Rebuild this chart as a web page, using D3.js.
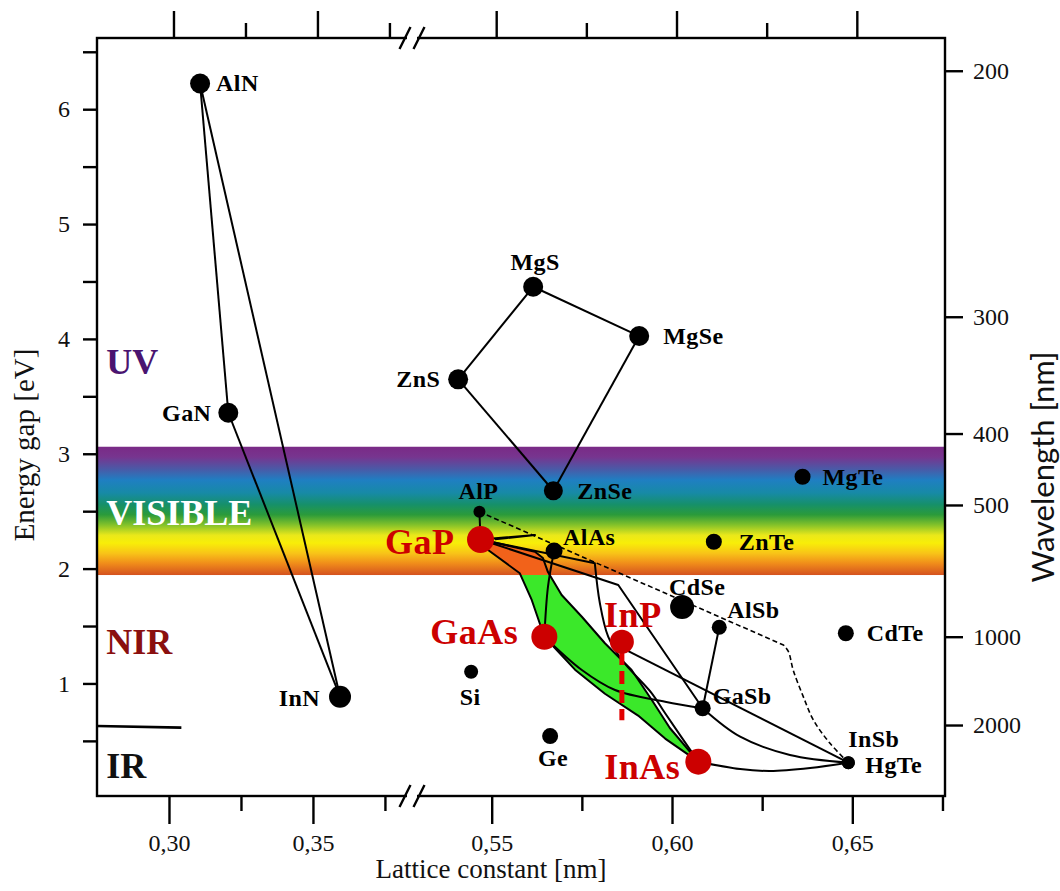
<!DOCTYPE html>
<html><head><meta charset="utf-8">
<script src="https://cdn.jsdelivr.net/npm/d3@7/dist/d3.min.js"></script>
<style>body{margin:0;background:#fff} svg{display:block}</style>
</head><body><svg id="chart" width="1060" height="891"></svg>
<script>
// ================= DATA =================
const compounds       = ["AlN","GaN","InN","MgS","MgSe","ZnS","ZnSe","AlP","MgTe","GaP","AlAs","ZnTe","CdSe","AlSb","CdTe","GaAs","InP","Si","GaSb","Ge","InAs","InSb","HgTe"];
const latticeConstant = [0.3108,0.3206,0.3594,0.5615,0.5909,0.5407,0.5671,0.5466,0.6362,0.5469,0.5673,0.6116,0.6028,0.6131,0.6482,0.5646,0.5861,0.5443,0.6085,0.5662,0.6073,0.6489,0.6489];
const energyGap       = [6.224,3.357,0.885,4.454,4.025,3.648,2.678,2.495,2.800,2.253,2.153,2.234,1.666,1.489,1.437,1.407,1.363,1.102,0.784,0.542,0.319,0.310,0.310];
const highlighted     = ["GaP","GaAs","InP","InAs"];

// straight tie lines between binaries
const straightTies = [["AlN","GaN"],["AlN","InN"],["GaN","InN"],["MgS","MgSe"],["MgS","ZnS"],["ZnS","ZnSe"],["MgSe","ZnSe"],["AlP","GaP"],["AlSb","GaSb"]];

// bent / curved tie lines: intermediate [a, Eg] points
const tieGaAsGaSb = [[0.5750,1.117],[0.5842,0.943],[0.5981,0.841]];
const tieAlAsGaAs = [[0.5656,1.840]];
const tieGaPGaSb  = [[0.5851,1.857]];
const tieGaPInAs  = [[0.5786,2.046],[0.5800,1.698],[0.5823,1.407],[0.5861,1.204],[0.5944,0.914],[0.5981,0.740]];
const tieGaPSmall = [[0.5620,2.293],[0.5509,2.255]];
const tieInPInSb  = [[0.5861,1.309]];
const tieGaSbInSb = [[0.6189,0.536],[0.6327,0.377]];
const tieInAsInSb = [[0.6189,0.255],[0.6272,0.238],[0.6383,0.264]];
const tieAlPInSbDashed = [[0.6309,1.335],[0.6323,1.276],[0.6336,1.117],[0.6364,0.885],[0.6392,0.682],[0.6438,0.479]];

// quaternary region GaP -> InAs -> GaAs -> GaP
const regionRightEdge = [[0.5620,2.147],[0.5642,2.092],[0.5656,1.970],[0.5694,1.770],[0.5750,1.581],[0.5814,1.350],[0.5888,1.117],[0.5944,0.856],[0.5994,0.612]];
const regionLowerEdge = [[0.5981,0.520],[0.5906,0.720],[0.5814,0.910],[0.5731,1.120]];
const regionLeftEdge  = [[0.5611,1.727],[0.5578,1.959],[0.5490,2.162]];

// lattice matched to InP (dashed red)
const inpMatched = [[0.5861,1.274],[0.5861,0.680]];

// visible band (eV) and spectral region labels
const visibleBand = [1.944, 3.061];
const regionNames  = ["UV","VISIBLE","NIR","IR"];
const regionEnergy = [3.80, 2.484, 1.361, 0.277];
const irBoundary   = [[0.2750,0.630],[0.3043,0.615]];

// axes
const xMajorTicks  = [0.30,0.35,0.55,0.60,0.65];
const xTickLabels  = ["0,30","0,35","0,55","0,60","0,65"];
const xMinorTicks  = [0.325,0.375,0.575,0.625,0.675];
const yMajorTicks  = [1,2,3,4,5,6];
const yMinorTicks  = [0.5,1.5,2.5,3.5,4.5,5.5,6.5];
const wavelengthTicks  = [200,300,400,500,1000,2000];
const wavelengthEnergy = [6.335,4.193,3.176,2.554,1.407,0.638];

// ================= STYLE =================
const radius = {AlN:10,GaN:10,InN:11,MgS:10,MgSe:10,ZnS:10,ZnSe:9.5,AlP:6,MgTe:8,GaP:13.5,AlAs:8.5,ZnTe:8,CdSe:12,AlSb:7.5,CdTe:8,GaAs:13,InP:12,Si:7,GaSb:8,Ge:8,InAs:13,InSb:6.5,HgTe:6.5};
const labelPos = {
 AlN:{dx:16,dy:0,a:"start"}, GaN:{dx:-17,dy:0,a:"end"}, InN:{dx:-20,dy:1,a:"end"},
 MgS:{dx:2,dy:-25,a:"middle"}, MgSe:{dx:24,dy:0,a:"start"}, ZnS:{dx:-18,dy:0,a:"end"},
 ZnSe:{dx:24,dy:0,a:"start"}, AlP:{dx:-1,dy:-21,a:"middle"}, MgTe:{dx:20,dy:0,a:"start"},
 GaP:{dx:-26,dy:2,a:"end"}, AlAs:{dx:9,dy:-14,a:"start"}, ZnTe:{dx:25,dy:0,a:"start"},
 CdSe:{dx:-13,dy:-20,a:"start"}, AlSb:{dx:8,dy:-17,a:"start"}, CdTe:{dx:21,dy:0,a:"start"},
 GaAs:{dx:-26,dy:-5,a:"end"}, InP:{dx:11,dy:-27,a:"middle"}, Si:{dx:-1,dy:25,a:"middle"},
 GaSb:{dx:10,dy:-12,a:"start"}, Ge:{dx:3,dy:22,a:"middle"}, InAs:{dx:-18,dy:5,a:"end"},
 InSb:{dx:0,dy:-24,a:"start"}, HgTe:{dx:17,dy:2,a:"start"}
};
const regionColor = {UV:"#4a1470",VISIBLE:"#ffffff",NIR:"#8a0f0f",IR:"#111111"};
const RED = "#cc0000";
const SERIF = "'Liberation Serif','Times New Roman',serif";
const LW = 2;

// ================= SCALES =================
const L = 97, R = 945, T = 38, B = 796;
const x = d3.scaleLinear().domain([0.275,0.3844,0.5279,0.6757]).range([L,412,412,R]);
const xTop = d3.scaleLinear().domain(x.domain()).range(x.range().map(v=>v+4.5));
const y = d3.scaleLinear().domain([0.02,6.62]).range([B,T]);
const yWave = d3.scaleLinear().domain(wavelengthTicks).range(wavelengthEnergy.map(e=>y(e)));

const pt = {};
compounds.forEach((c,i)=>pt[c]=[latticeConstant[i],energyGap[i]]);

const svg = d3.select("#chart");
const defs = svg.append("defs");

// spectrum gradient
const grad = defs.append("linearGradient").attr("id","spec").attr("x1",0).attr("y1",0).attr("x2",0).attr("y2",1);
[["0","#7a2a86"],["0.08","#77358f"],["0.17","#4c58a6"],["0.26","#1f7fc2"],["0.36","#178aa6"],["0.45","#16906a"],["0.53","#2b9b3a"],["0.61","#84c22a"],["0.69","#eae81a"],["0.75","#f8ee08"],["0.83","#f8c418"],["0.91","#f08c1a"],["1","#d4521f"]]
 .forEach(s=>grad.append("stop").attr("offset",s[0]).attr("stop-color",s[1]));

const bandY0 = y(visibleBand[1]), bandY1 = y(visibleBand[0]);
defs.append("clipPath").attr("id","clipBand").append("rect").attr("x",L).attr("y",bandY0).attr("width",R-L).attr("height",bandY1-bandY0);
defs.append("clipPath").attr("id","clipBelow").append("rect").attr("x",L).attr("y",bandY1).attr("width",R-L).attr("height",B-bandY1);

// band
svg.append("rect").attr("x",L).attr("y",bandY0).attr("width",R-L).attr("height",bandY1-bandY0).attr("fill","url(#spec)");

// quaternary region
const regionPts = [pt.GaP, ...regionRightEdge, pt.InAs, ...regionLowerEdge, pt.GaAs, ...regionLeftEdge];
const areaPath = d3.line().x(d=>x(d[0])).y(d=>y(d[1]))(regionPts) + "Z";
svg.append("path").attr("d",areaPath).attr("fill","#3be82a").attr("clip-path","url(#clipBelow)");
svg.append("path").attr("d",areaPath).attr("fill","#f2621a").attr("clip-path","url(#clipBand)");
svg.append("path").attr("d",areaPath).attr("fill","none").attr("stroke","#000").attr("stroke-width",LW).attr("stroke-linejoin","round");

// tie lines
const lin = d3.line().x(d=>x(d[0])).y(d=>y(d[1]));
const smooth = d3.line().x(d=>x(d[0])).y(d=>y(d[1])).curve(d3.curveCatmullRom.alpha(0.5));
const g = svg.append("g").attr("fill","none").attr("stroke","#000").attr("stroke-width",LW).attr("stroke-linejoin","round");
straightTies.forEach(([a,b])=>g.append("path").attr("d",lin([pt[a],pt[b]])));
g.append("path").attr("d",smooth([pt.GaAs,...tieGaAsGaSb,pt.GaSb]));
g.append("path").attr("d",smooth([pt.AlAs,...tieAlAsGaAs,pt.GaAs]));
g.append("path").attr("d",lin([pt.GaP,...tieGaPGaSb,pt.GaSb]));
g.append("path").attr("d",lin([pt.GaP,tieGaPInAs[0]])+smooth([...tieGaPInAs,pt.InAs]).replace(/^M/,"L"));
g.append("path").attr("d",lin([pt.GaP,...tieGaPSmall]));
g.append("path").attr("d",lin([...tieInPInSb,pt.InSb]));
g.append("path").attr("d",smooth([pt.GaSb,...tieGaSbInSb,pt.InSb]));
g.append("path").attr("d",smooth([pt.InAs,...tieInAsInSb,pt.InSb]));
g.append("path").attr("d",lin([pt.AlP,tieAlPInSbDashed[0]])+smooth([...tieAlPInSbDashed,pt.InSb]).replace(/^M/,"L"))
  .attr("stroke-dasharray","5,3").attr("stroke-width",1.6);

// red dashed InP line
svg.append("path").attr("d",lin(inpMatched)).attr("stroke","#e30000").attr("stroke-width",5).attr("stroke-dasharray","13,6").attr("fill","none");

// IR boundary
svg.append("path").attr("d",lin(irBoundary)).attr("stroke","#000").attr("stroke-width",2.6).attr("fill","none");

// dots
svg.append("g").selectAll("circle").data(compounds).join("circle")
  .attr("cx",c=>x(pt[c][0])).attr("cy",c=>y(pt[c][1])).attr("r",c=>radius[c])
  .attr("fill",c=>highlighted.includes(c)?RED:"#000");

// compound labels
svg.append("g").selectAll("text").data(compounds).join("text")
  .attr("x",c=>x(pt[c][0])+labelPos[c].dx)
  .attr("y",c=>y(pt[c][1])+labelPos[c].dy + (highlighted.includes(c)?12:8))
  .attr("text-anchor",c=>labelPos[c].a)
  .attr("font-family",SERIF).attr("font-weight","bold")
  .attr("font-size",c=>highlighted.includes(c)?36:24)
  .attr("letter-spacing",c=>highlighted.includes(c)?"0.5":"0.4")
  .attr("fill",c=>highlighted.includes(c)?"#cc0000":"#000")
  .text(c=>c);

// spectral region labels
svg.append("g").selectAll("text").data(regionNames).join("text")
  .attr("x",x(0.2782)).attr("y",(d,i)=>y(regionEnergy[i])+12)
  .attr("font-family",SERIF).attr("font-weight","bold").attr("font-size",36)
  .attr("fill",d=>regionColor[d]).text(d=>d);

// frame
svg.append("rect").attr("x",L).attr("y",T).attr("width",R-L).attr("height",B-T).attr("fill","none").attr("stroke","#000").attr("stroke-width",2.4);

function styleAxis(sel){ sel.select(".domain").remove(); sel.selectAll("line").attr("stroke","#000").attr("stroke-width",2.4); sel.selectAll("text").attr("font-family",SERIF).attr("font-size",24).attr("fill","#111"); }

// bottom
svg.append("g").attr("transform",`translate(0,${B})`).call(d3.axisBottom(x).tickValues(xMajorTicks).tickSize(28).tickPadding(10).tickFormat((d,i)=>xTickLabels[i])).call(styleAxis);
svg.append("g").attr("transform",`translate(0,${B})`).call(d3.axisBottom(x).tickValues(xMinorTicks).tickSize(15).tickFormat("")).call(styleAxis);
// top
svg.append("g").attr("transform",`translate(0,${T})`).call(d3.axisTop(xTop).tickValues(xMajorTicks).tickSize(27).tickFormat("")).call(styleAxis);
svg.append("g").attr("transform",`translate(0,${T})`).call(d3.axisTop(xTop).tickValues(xMinorTicks.slice(0,4)).tickSize(15).tickFormat("")).call(styleAxis);
// left
svg.append("g").attr("transform",`translate(${L},0)`).call(d3.axisLeft(y).tickValues(yMajorTicks).tickSize(14).tickPadding(13).tickFormat(d3.format("d"))).call(styleAxis);
svg.append("g").attr("transform",`translate(${L},0)`).call(d3.axisLeft(y).tickValues(yMinorTicks).tickSize(14).tickFormat("")).call(styleAxis);
// right (wavelength)
svg.append("g").attr("transform",`translate(${R},0)`).call(d3.axisRight(yWave).tickValues(wavelengthTicks).tickSize(18).tickPadding(10).tickFormat(d3.format("d"))).call(styleAxis);

// axis breaks
[T,B].forEach(yy=>{
  const bx = 412;
  svg.append("rect").attr("x",bx-5).attr("y",yy-3).attr("width",10).attr("height",6).attr("fill","#fff");
  [bx-7, bx+7].forEach(cx=>svg.append("line").attr("x1",cx-5.5).attr("y1",yy+11).attr("x2",cx+5.5).attr("y2",yy-11).attr("stroke","#000").attr("stroke-width",2.4));
});

// axis titles
svg.append("text").attr("x",491).attr("y",878).attr("text-anchor","middle").attr("font-family",SERIF).attr("font-size",27).attr("fill","#111").text("Lattice constant [nm]");
svg.append("text").attr("transform","translate(34,445) rotate(-90)").attr("text-anchor","middle").attr("font-family",SERIF).attr("font-size",29).attr("fill","#111").text("Energy gap [eV]");
svg.append("text").attr("transform","translate(1054,467) rotate(-90)").attr("text-anchor","middle").attr("font-family","Lato,'Open Sans',sans-serif").attr("font-size",31).attr("fill","#111").text("Wavelength [nm]");
</script></body></html>
